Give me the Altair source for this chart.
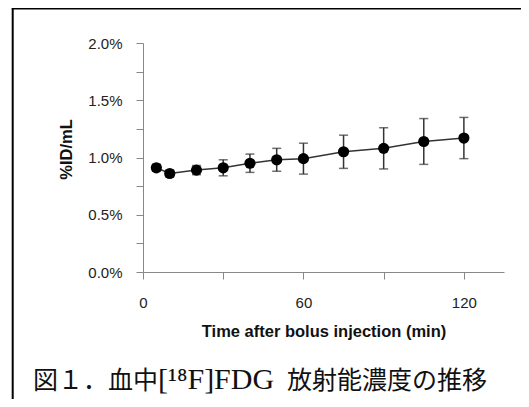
import altair as alt
import pandas as pd

# ---- data ----
time_min = [5, 10, 20, 30, 40, 50, 60, 75, 90, 105, 120]
mean_pct = [0.91, 0.86, 0.89, 0.91, 0.95, 0.98, 0.99, 1.05, 1.08, 1.14, 1.17]
sd_pct = [0.03, 0.03, 0.04, 0.07, 0.08, 0.10, 0.135, 0.145, 0.18, 0.20, 0.18]

x_ticks = [0, 30, 60, 90, 120]
y_ticks = [0, 0.25, 0.5, 0.75, 1.0, 1.25, 1.5, 1.75, 2.0]
x_title = "Time after bolus injection (min)"
y_title = "%ID/mL"
caption_parts = ["図１．血中", "[¹⁸F]FDG", "放射能濃度の推移"]

df = pd.DataFrame({"t": time_min, "m": mean_pct, "sd": sd_pct})
df["lo"] = df["m"] - df["sd"]
df["hi"] = df["m"] + df["sd"]

LABEL_FONT = "Liberation Sans, Arial, sans-serif"

x_enc = alt.X(
    "t:Q",
    scale=alt.Scale(domain=[0, 135], nice=False, zero=True),
    axis=alt.Axis(
        values=x_ticks,
        labelExpr="datum.value % 60 == 0 ? format(datum.value, 'd') : ''",
        labelFlush=False,
        labelBaseline="alphabetic",
        labelPadding=28,
        title=x_title,
        titleFontSize=16.5,
        titleBaseline="alphabetic",
        titleY=64,
    ),
)

y_axis = alt.Axis(
    values=y_ticks,
    labelExpr="(datum.value * 4) % 2 == 0 ? format(datum.value, '.1f') + '%' : ''",
    labelPadding=14,
    title=y_title,
    titleFontSize=16.5,
    titleBaseline="middle",
    titleX=-77,
    titleY=106,
    titleAngle=270,
)
y_scale = alt.Scale(domain=[0, 2.0], nice=False)

base = alt.Chart(df)

line = base.mark_line(color="#333333", strokeWidth=1.5).encode(
    x=x_enc, y=alt.Y("m:Q", scale=y_scale, axis=y_axis, title=y_title)
)

err = base.mark_errorbar(
    ticks={"size": 9, "thickness": 1.5, "color": "#333333"},
    rule={"strokeWidth": 1.5, "color": "#333333"},
).encode(
    x=alt.X("t:Q"),
    y=alt.Y("lo:Q", scale=y_scale, axis=y_axis, title=y_title),
    y2="hi:Q",
)

pts = base.mark_circle(size=125, color="black", opacity=1).encode(
    x=alt.X("t:Q"), y=alt.Y("m:Q", scale=y_scale, axis=y_axis, title=y_title)
)

one = alt.Data(values=[{"k": 1}])

frame_left = alt.Chart(one).mark_rule(color="black", strokeWidth=2).encode(
    x=alt.value(-130.3), y=alt.value(-34.5), y2=alt.value(360)
)
frame_top = alt.Chart(one).mark_rule(color="black", strokeWidth=2).encode(
    x=alt.value(-131.3), x2=alt.value(400), y=alt.value(-34.5)
)

CAP_FONT = "Liberation Serif, Noto Sans CJK JP"
cap1 = alt.Chart(one).mark_text(
    align="left", baseline="alphabetic", font=CAP_FONT, fontSize=25, color="#111111"
).encode(x=alt.value(-110), y=alt.value(346), text=alt.value(caption_parts[0]))
cap2 = alt.Chart(one).mark_text(
    align="left", baseline="alphabetic", font=CAP_FONT, fontSize=30, color="#111111"
).encode(x=alt.value(15), y=alt.value(346), text=alt.value(caption_parts[1]))
cap3 = alt.Chart(one).mark_text(
    align="left", baseline="alphabetic", font=CAP_FONT, fontSize=25, color="#111111"
).encode(x=alt.value(144), y=alt.value(346), text=alt.value(caption_parts[2]))

chart = (
    alt.layer(frame_left, frame_top, line, err, pts, cap1, cap2, cap3)
    .properties(
        width=361,
        height=229,
        autosize=alt.AutoSizeParams(type="none"),
        padding={"left": 135, "top": 35, "right": 17, "bottom": 127},
        background="white",
    )
    .configure_view(stroke=None)
    .configure_axis(
        grid=False,
        domainColor="#888888",
        tickColor="#888888",
        tickSize=7,
        labelFont=LABEL_FONT,
        labelFontSize=15,
        labelColor="#222222",
        titleFont=LABEL_FONT,
        titleFontWeight="bold",
        titleColor="#111111",
    )
)

chart.save("out.html", embed_options={"renderer": "svg", "actions": False})
